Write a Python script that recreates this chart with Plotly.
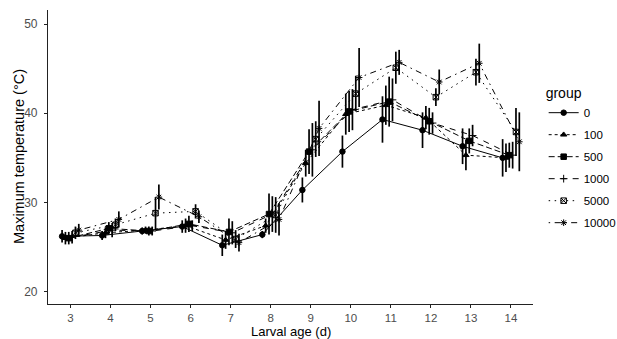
import plotly.graph_objects as go

# Larval age (days) and dose groups
days = [3, 4, 5, 6, 7, 8, 9, 10, 11, 12, 13, 14]
groups = ["0", "100", "500", "1000", "5000", "10000"]

# Mean maximum temperature (°C) per group
temp_0 = [26.2, 26.3, 26.8, 27.3, 25.2, 26.4, 31.4, 35.7, 39.3, 38.1, 36.3, 35.0]
temp_100 = [26.0, 26.6, 26.9, 27.4, 25.8, 27.4, 34.4, 39.9, 40.9, 39.5, 35.3, 35.0]
temp_500 = [26.0, 27.1, 26.8, 27.6, 26.7, 28.7, 35.7, 40.2, 41.3, 39.1, 36.9, 35.3]
temp_1000 = [26.1, 26.9, 26.8, 27.4, 26.6, 28.7, 35.9, 40.4, 41.5, 38.9, 37.5, 35.3]
temp_5000 = [26.6, 27.5, 28.8, 29.0, 25.9, 28.6, 37.1, 42.2, 45.1, 41.8, 44.6, 37.9]
temp_10000 = [26.9, 28.1, 30.6, 28.4, 25.5, 28.1, 38.3, 44.0, 45.7, 43.5, 45.6, 36.8]

# Error (± half-range) per group
err_0 = [0.7, 0.5, 0.4, 0.7, 1.2, 0.4, 1.4, 1.8, 2.6, 2.0, 2.0, 2.1]
err_100 = [0.7, 0.6, 0.4, 0.8, 1.0, 0.8, 1.5, 2.3, 2.2, 1.3, 1.7, 1.6]
err_500 = [0.7, 0.7, 0.5, 0.9, 1.5, 2.3, 2.5, 2.3, 2.8, 1.5, 1.4, 1.4]
err_1000 = [0.7, 0.8, 0.5, 0.6, 1.3, 2.0, 3.0, 2.3, 2.4, 1.2, 1.2, 1.5]
err_5000 = [0.7, 0.7, 1.8, 0.8, 1.0, 2.0, 2.0, 2.0, 1.8, 1.0, 1.5, 2.7]
err_10000 = [0.7, 0.9, 1.4, 0.7, 1.0, 1.8, 3.1, 3.3, 1.4, 1.4, 2.2, 3.3]

means = [temp_0, temp_100, temp_500, temp_1000, temp_5000, temp_10000]
errors = [err_0, err_100, err_500, err_1000, err_5000, err_10000]

symbols = ["circle", "triangle-up", "square", "cross-thin-open",
           "square-x-open", "asterisk-open"]
dashes = ["solid", "3px,3px", "6px,3px", "6px,6px", "1.5px,4.5px",
          "1.5px,4.5px,6px,4.5px"]

dodge_width = 0.5
n = len(groups)

fig = go.Figure()
for i, g in enumerate(groups):
    offset = dodge_width / n * (i - (n - 1) / 2)
    xs = [d + offset for d in days]
    fig.add_trace(go.Scatter(
        x=xs, y=means[i], name=g, legendgroup=g,
        mode="lines+markers",
        line=dict(color="black", width=1, dash=dashes[i]),
        marker=dict(symbol=symbols[i], size=5.5, color="black",
                    line=dict(color="black", width=1)),
        error_y=dict(type="data", array=errors[i], visible=True,
                     color="black", thickness=1.7, width=0),
    ))

font_family = "Liberation Sans, Arial, sans-serif"

fig.update_layout(
    width=617, height=339,
    margin=dict(l=48, r=84, t=10, b=35, autoexpand=False),
    paper_bgcolor="white", plot_bgcolor="white",
    font=dict(family=font_family, color="black", size=12),
    legend=dict(
        title=dict(text="group", font=dict(size=14)),
        x=1.022, xanchor="left", y=0.762, yanchor="top",
        font=dict(size=11.5), tracegroupgap=3, itemwidth=30,
        bgcolor="rgba(0,0,0,0)",
    ),
    xaxis=dict(
        range=[2.44, 14.55], tickmode="array", tickvals=days,
        ticktext=[str(d) for d in days],
        showline=True, linecolor="#222222", linewidth=1.2,
        ticks="outside", ticklen=3, tickcolor="#222222",
        tickfont=dict(size=11.5, color="#4d4d4d"), ticklabelstandoff=0,
        showgrid=False, zeroline=False, automargin=False,
    ),
    yaxis=dict(
        range=[18.62, 51.57], tickvals=[20, 30, 40, 50],
        showline=True, linecolor="#222222", linewidth=1.2,
        ticks="outside", ticklen=3, tickcolor="#222222",
        tickfont=dict(size=12, color="#4d4d4d"), ticklabelstandoff=4,
        showgrid=False, zeroline=False, automargin=False,
    ),
    annotations=[
        dict(text="Larval age (d)", xref="paper", yref="paper",
             x=0.5, y=0, xanchor="center", yanchor="middle", yshift=-27.5,
             showarrow=False, font=dict(size=13, color="black")),
        dict(text="Maximum temperature (°C)", xref="paper", yref="paper",
             x=0, y=0.5, xanchor="center", yanchor="middle", xshift=-29,
             textangle=-90, showarrow=False,
             font=dict(size=14.5, color="black")),
    ],
)

fig.write_html("out.html")
